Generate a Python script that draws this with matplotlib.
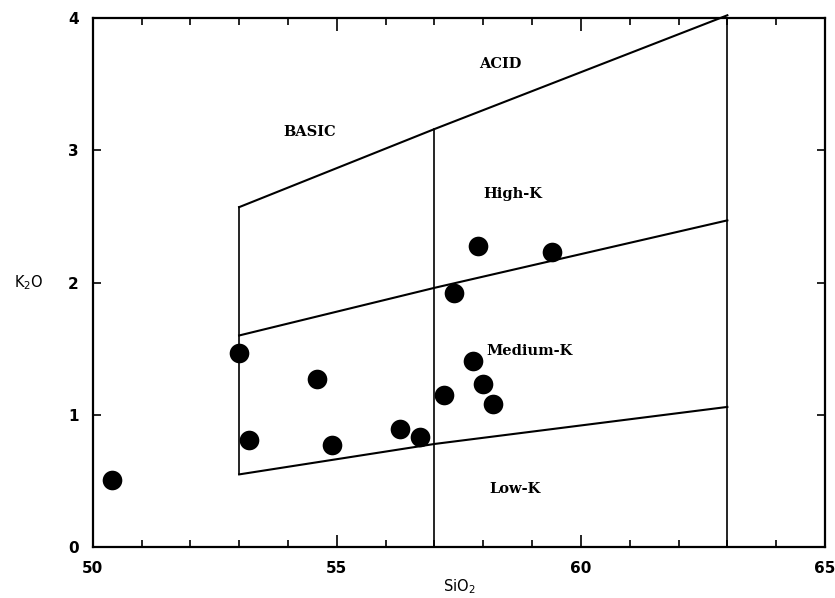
import matplotlib.pyplot as plt
from matplotlib.ticker import MultipleLocator

# measured samples (SiO2 wt%, K2O wt%)
sio2 = [50.4, 53.0, 53.2, 54.6, 54.9, 56.3, 56.7, 57.2, 57.4, 57.9, 57.8, 58.0, 58.2, 59.4]
k2o = [0.51, 1.47, 0.81, 1.27, 0.77, 0.89, 0.83, 1.15, 1.92, 2.28, 1.41, 1.23, 1.08, 2.23]

# field boundaries
div_x = [53, 57, 63]
top_x, top_y = [53, 57, 63], [2.57, 3.16, 4.02]
high_x, high_y = [53, 57, 63], [1.60, 1.96, 2.47]
low_x, low_y = [53, 57, 63], [0.55, 0.78, 1.06]
div_top = [2.57, 3.16, 4.02]
div_bot = [0.55, 0.0, 0.0]

labels = ["ACID", "BASIC", "High-K", "Medium-K", "Low-K"]
label_x = [58.35, 54.45, 58.6, 58.95, 58.65]
label_y = [3.65, 3.14, 2.67, 1.48, 0.44]

fig = plt.figure(figsize=(8.35, 5.98), dpi=100)
ax = fig.add_axes([0.111, 0.085, 0.877, 0.885])

lw = 1.5
for x, yb, yt in zip(div_x, div_bot, div_top):
    ax.plot([x, x], [yb, yt], color="black", linewidth=1.2)
ax.plot(top_x, top_y, color="black", linewidth=lw, clip_on=False)
ax.plot(high_x, high_y, color="black", linewidth=lw)
ax.plot(low_x, low_y, color="black", linewidth=lw)

ax.scatter(sio2, k2o, s=200, color="black", zorder=5, linewidths=0)

for t, x, y in zip(labels, label_x, label_y):
    ax.text(x, y, t, ha="center", va="center", fontsize=10.5,
            fontweight="bold", family="DejaVu Serif")

ax.set_xlim(50, 65)
ax.set_ylim(0, 4)
ax.xaxis.set_major_locator(MultipleLocator(5))
ax.xaxis.set_minor_locator(MultipleLocator(1))
ax.set_yticks([0, 1, 2, 3, 4])
ax.tick_params(which="both", direction="in", top=True, right=True, width=1.2)
ax.tick_params(which="major", length=9, labelsize=11, pad=10)
ax.tick_params(axis="y", which="major", length=6)
ax.tick_params(which="minor", length=5)
for lab in ax.get_xticklabels() + ax.get_yticklabels():
    lab.set_fontweight("bold")
for s in ax.spines.values():
    s.set_linewidth(1.6)

ax.set_xlabel("SiO$_2$", fontsize=10.5, labelpad=1)
ax.set_ylabel("K$_2$O", fontsize=10.5, rotation=0, labelpad=28, va="center")

fig.savefig("out.png", dpi=100)
